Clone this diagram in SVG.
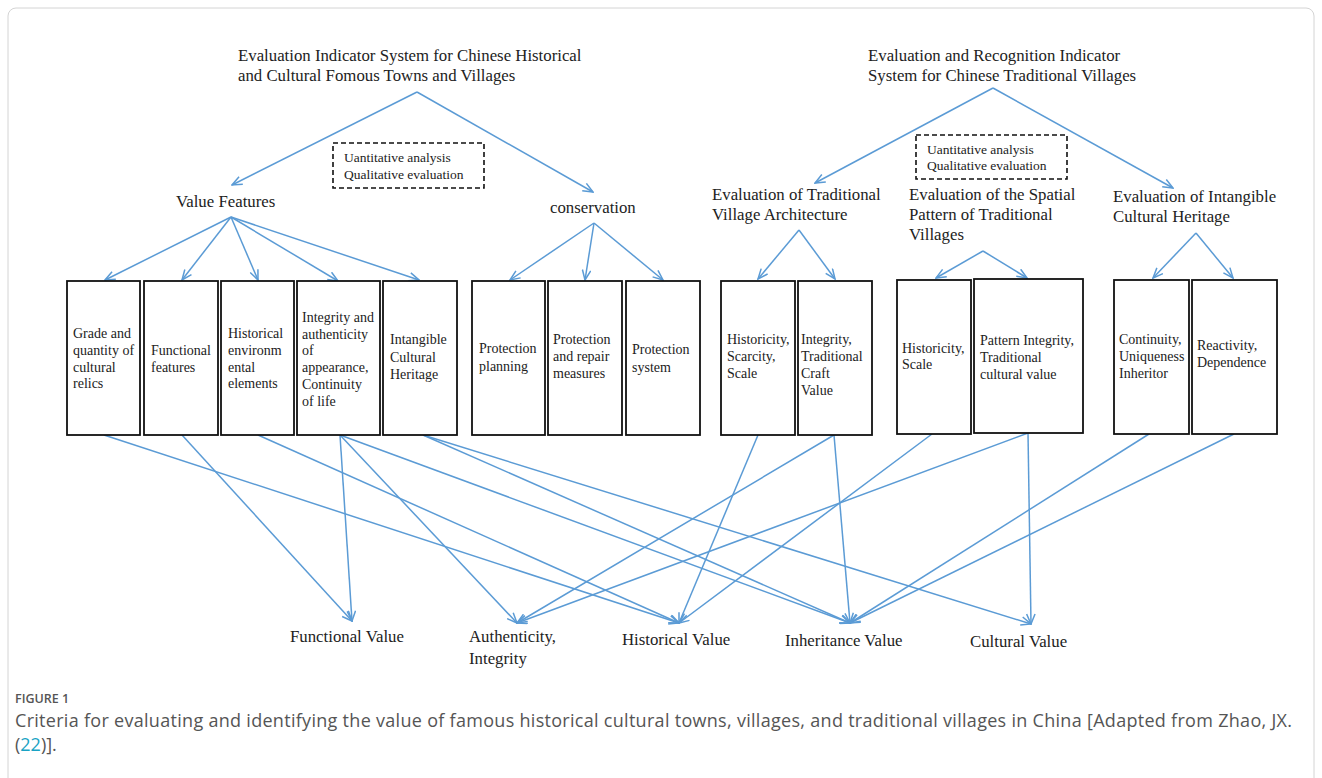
<svg xmlns="http://www.w3.org/2000/svg" width="1322" height="778" viewBox="0 0 1322 778">
<style>
  .t { font-family: "Liberation Serif", "Times New Roman", serif; fill: #222; }
  .h { font-size: 16.8px; }
  .b { font-size: 14px; }
  .d { font-size: 13.5px; }
  .box { fill: #fff; stroke: #111; stroke-width: 1.8; }
  .dash { fill: none; stroke: #111; stroke-width: 1.6; stroke-dasharray: 5 3; }
  .c { fill: none; stroke: #5B9BD5; stroke-width: 1.5; marker-end: url(#arr); }
  .cap { font-family: "Open Sans", "Liberation Sans", sans-serif; fill: #555; }
</style>
<defs>
  <marker id="arr" viewBox="0 0 12 10" refX="11" refY="5" markerWidth="12" markerHeight="10" markerUnits="userSpaceOnUse" orient="auto">
    <path d="M1,0.8 L11,5 L1,9.2" fill="none" stroke="#5B9BD5" stroke-width="1.5"/>
  </marker>
</defs>
<rect x="0" y="0" width="1322" height="778" fill="#fff"/>
<rect x="8" y="8" width="1306" height="800" rx="8" fill="none" stroke="#d4d4d4" stroke-width="1"/>

<g id="connectors">
  <!-- top level -->
  <line class="c" x1="417" y1="92" x2="232" y2="185"/>
  <line class="c" x1="417" y1="92" x2="593" y2="192"/>
  <line class="c" x1="993" y1="88" x2="815" y2="183"/>
  <line class="c" x1="993" y1="88" x2="1173" y2="188"/>
  <!-- value features fan -->
  <line class="c" x1="231" y1="217" x2="105" y2="280"/>
  <line class="c" x1="231" y1="217" x2="182" y2="280"/>
  <line class="c" x1="231" y1="217" x2="258" y2="280"/>
  <line class="c" x1="231" y1="217" x2="338" y2="281"/>
  <line class="c" x1="231" y1="217" x2="419" y2="280"/>
  <!-- conservation fan -->
  <line class="c" x1="594" y1="223" x2="510" y2="280"/>
  <line class="c" x1="594" y1="223" x2="585" y2="280"/>
  <line class="c" x1="594" y1="223" x2="663" y2="280"/>
  <!-- architecture fan -->
  <line class="c" x1="799" y1="230" x2="758" y2="279"/>
  <line class="c" x1="799" y1="230" x2="835" y2="279"/>
  <!-- spatial fan -->
  <line class="c" x1="983" y1="251" x2="936" y2="278"/>
  <line class="c" x1="983" y1="251" x2="1027" y2="278"/>
  <!-- intangible fan -->
  <line class="c" x1="1196" y1="233" x2="1153" y2="278"/>
  <line class="c" x1="1196" y1="233" x2="1233" y2="278"/>
  <!-- bottom -->
  <line class="c" x1="104" y1="435" x2="679" y2="623"/>
  <line class="c" x1="182" y1="435" x2="352" y2="621"/>
  <line class="c" x1="258" y1="435" x2="679" y2="623"/>
  <line class="c" x1="340" y1="435" x2="352" y2="621"/>
  <line class="c" x1="340" y1="435" x2="517" y2="623"/>
  <line class="c" x1="340" y1="435" x2="850" y2="623"/>
  <line class="c" x1="423" y1="435" x2="850" y2="623"/>
  <line class="c" x1="423" y1="435" x2="1031" y2="624"/>
  <line class="c" x1="758" y1="435" x2="679" y2="623"/>
  <line class="c" x1="834" y1="435" x2="517" y2="623"/>
  <line class="c" x1="834" y1="435" x2="850" y2="623"/>
  <line class="c" x1="932" y1="434" x2="679" y2="623"/>
  <line class="c" x1="1028" y1="433" x2="517" y2="623"/>
  <line class="c" x1="1028" y1="433" x2="1031" y2="624"/>
  <line class="c" x1="1149" y1="434" x2="850" y2="623"/>
  <line class="c" x1="1234" y1="434" x2="850" y2="623"/>
</g>

<g id="title-left">
  <text class="t h" x="238" y="61">Evaluation Indicator System for Chinese Historical</text>
  <text class="t h" x="238" y="81">and Cultural Fomous Towns and Villages</text>
</g>
<g id="title-right">
  <text class="t h" x="868" y="61">Evaluation and Recognition Indicator</text>
  <text class="t h" x="868" y="81">System for Chinese Traditional Villages</text>
</g>
<g id="note-left">
  <rect class="dash" x="333" y="143" width="151" height="45"/>
  <text class="t d" x="344" y="162">Uantitative analysis</text>
  <text class="t d" x="344" y="179">Qualitative evaluation</text>
</g>
<g id="note-right">
  <rect class="dash" x="916" y="135" width="151" height="44"/>
  <text class="t d" x="927" y="154">Uantitative analysis</text>
  <text class="t d" x="927" y="170">Qualitative evaluation</text>
</g>
<g id="value-features"><text class="t h" x="176" y="207">Value Features</text></g>
<g id="conservation"><text class="t h" x="550" y="213">conservation</text></g>
<g id="eval-architecture">
  <text class="t h" x="712" y="200">Evaluation of Traditional</text>
  <text class="t h" x="712" y="220">Village Architecture</text>
</g>
<g id="eval-spatial">
  <text class="t h" x="909" y="200">Evaluation of the Spatial</text>
  <text class="t h" x="909" y="220">Pattern of Traditional</text>
  <text class="t h" x="909" y="240">Villages</text>
</g>
<g id="eval-intangible">
  <text class="t h" x="1113" y="202">Evaluation of Intangible</text>
  <text class="t h" x="1113" y="222">Cultural Heritage</text>
</g>

<g id="box-grade">
  <rect class="box" x="67" y="281" width="73" height="154"/>
  <text class="t b" x="73" y="338">Grade and</text>
  <text class="t b" x="73" y="355">quantity of</text>
  <text class="t b" x="73" y="372">cultural</text>
  <text class="t b" x="73" y="388">relics</text>
</g>
<g id="box-functional">
  <rect class="box" x="144" y="281" width="74" height="154"/>
  <text class="t b" x="151" y="355">Functional</text>
  <text class="t b" x="151" y="372">features</text>
</g>
<g id="box-historical-env">
  <rect class="box" x="221" y="281" width="73" height="154"/>
  <text class="t b" x="228" y="338">Historical</text>
  <text class="t b" x="228" y="355">environm</text>
  <text class="t b" x="228" y="372">ental</text>
  <text class="t b" x="228" y="388">elements</text>
</g>
<g id="box-integrity">
  <rect class="box" x="297" y="281" width="83" height="154"/>
  <text class="t b" x="302" y="322">Integrity and</text>
  <text class="t b" x="302" y="339">authenticity</text>
  <text class="t b" x="302" y="355">of</text>
  <text class="t b" x="302" y="372">appearance,</text>
  <text class="t b" x="302" y="389">Continuity</text>
  <text class="t b" x="302" y="406">of life</text>
</g>
<g id="box-intangible">
  <rect class="box" x="383" y="281" width="74" height="154"/>
  <text class="t b" x="390" y="344">Intangible</text>
  <text class="t b" x="390" y="362">Cultural</text>
  <text class="t b" x="390" y="379">Heritage</text>
</g>
<g id="box-planning">
  <rect class="box" x="472" y="281" width="73" height="154"/>
  <text class="t b" x="479" y="353">Protection</text>
  <text class="t b" x="479" y="371">planning</text>
</g>
<g id="box-repair">
  <rect class="box" x="548" y="281" width="74" height="154"/>
  <text class="t b" x="553" y="344">Protection</text>
  <text class="t b" x="553" y="361">and repair</text>
  <text class="t b" x="553" y="378">measures</text>
</g>
<g id="box-system">
  <rect class="box" x="626" y="281" width="74" height="154"/>
  <text class="t b" x="632" y="354">Protection</text>
  <text class="t b" x="632" y="372">system</text>
</g>
<g id="box-historicity-scarcity">
  <rect class="box" x="721" y="281" width="74" height="154"/>
  <text class="t b" x="727" y="344">Historicity,</text>
  <text class="t b" x="727" y="361">Scarcity,</text>
  <text class="t b" x="727" y="378">Scale</text>
</g>
<g id="box-integrity-craft">
  <rect class="box" x="798" y="281" width="74" height="154"/>
  <text class="t b" x="801" y="344">Integrity,</text>
  <text class="t b" x="801" y="361">Traditional</text>
  <text class="t b" x="801" y="378">Craft</text>
  <text class="t b" x="801" y="395">Value</text>
</g>
<g id="box-historicity-scale">
  <rect class="box" x="897" y="280" width="74" height="154"/>
  <text class="t b" x="902" y="353">Historicity,</text>
  <text class="t b" x="902" y="369">Scale</text>
</g>
<g id="box-pattern">
  <rect class="box" x="974" y="279" width="109" height="154"/>
  <text class="t b" x="980" y="345">Pattern Integrity,</text>
  <text class="t b" x="980" y="362">Traditional</text>
  <text class="t b" x="980" y="379">cultural value</text>
</g>
<g id="box-continuity">
  <rect class="box" x="1114" y="280" width="75" height="154"/>
  <text class="t b" x="1119" y="344">Continuity,</text>
  <text class="t b" x="1119" y="361">Uniqueness</text>
  <text class="t b" x="1119" y="378">Inheritor</text>
</g>
<g id="box-reactivity">
  <rect class="box" x="1192" y="280" width="85" height="154"/>
  <text class="t b" x="1197" y="350">Reactivity,</text>
  <text class="t b" x="1197" y="367">Dependence</text>
</g>

<g id="out-functional"><text class="t h" x="290" y="642">Functional Value</text></g>
<g id="out-authenticity">
  <text class="t h" x="469" y="642">Authenticity,</text>
  <text class="t h" x="469" y="664">Integrity</text>
</g>
<g id="out-historical"><text class="t h" x="622" y="645">Historical Value</text></g>
<g id="out-inheritance"><text class="t h" x="785" y="646">Inheritance Value</text></g>
<g id="out-cultural"><text class="t h" x="970" y="647">Cultural Value</text></g>

<g id="caption">
  <text class="cap" x="15" y="703" font-size="12.5" font-weight="600">FIGURE 1</text>
  <text class="cap" x="15" y="727" font-size="18" textLength="1277" lengthAdjust="spacing">Criteria for evaluating and identifying the value of famous historical cultural towns, villages, and traditional villages in China [Adapted from Zhao, JX.</text>
  <text class="cap" x="15" y="751" font-size="18">(<tspan fill="#1aa3c4">22</tspan>)].</text>
</g>
</svg>
